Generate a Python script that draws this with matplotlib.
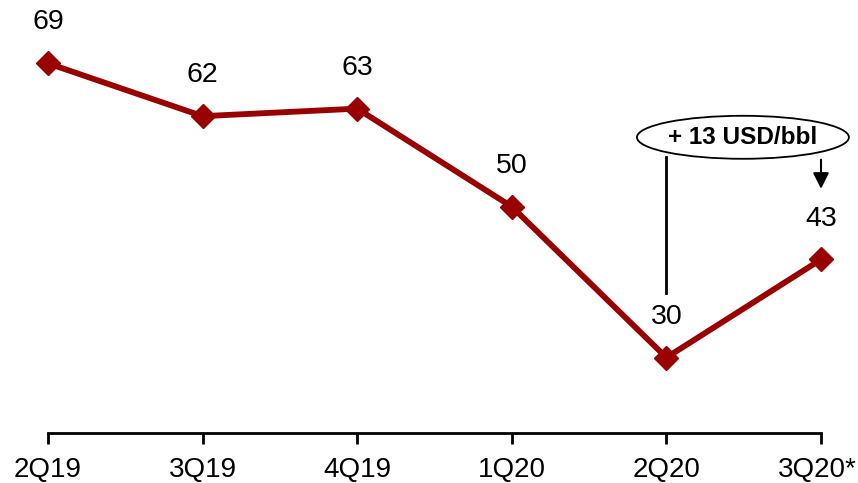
import matplotlib
matplotlib.use("Agg")
import matplotlib.pyplot as plt
import matplotlib.transforms as mtransforms
from matplotlib.patches import Ellipse

categories = ["2Q19", "3Q19", "4Q19", "1Q20", "2Q20", "3Q20*"]
values = [69, 62, 63, 50, 30, 43]
annotation_text = "+ 13 USD/bbl"

plt.rcParams['font.family'] = ['Liberation Sans Narrow', 'Liberation Sans', 'DejaVu Sans']

fig = plt.figure(figsize=(8.58, 4.83), dpi=100)
ax = fig.add_axes([48/858, 50/483, (821-48)/858, 433/483])
x = list(range(len(categories)))
color = "#990000"
ax.plot(x, values, color=color, lw=4.2, marker='D', ms=12.5, clip_on=False, zorder=3)
for xi, v in zip(x, values):
    ax.annotate(str(v), (xi, v), xytext=(0, 29.5), textcoords='offset points',
                ha='center', va='center', fontsize=20.5)

ax.set_xlim(0, 5)
ax.set_ylim(20, 77.4)
for s in ['top', 'right', 'left']:
    ax.spines[s].set_visible(False)
ax.spines['bottom'].set_linewidth(2)
ax.set_yticks([])
ax.set_xticks(x)
ax.set_xticklabels(categories, fontsize=20)
ax.tick_params(axis='x', length=8, width=2, pad=9)
last = ax.get_xticklabels()[-1]
last.set_transform(last.get_transform() + mtransforms.ScaledTranslation(-4/100, 0, fig.dpi_scale_trans))

# annotation: ellipse with text, connector and arrow
ell = Ellipse((4.495, 59.2), 1.371, 5.7, facecolor='white', edgecolor='black', lw=1.3, zorder=4, clip_on=False)
ax.add_patch(ell)
ax.text(4.495, 59.2, annotation_text, ha='center', va='center', fontsize=17.5, fontweight='bold', zorder=5)
ax.plot([4, 4], [56.6, 38.5], color='black', lw=2, zorder=2)
ax.annotate("", xy=(5, 52.0), xytext=(5, 56.6),
            arrowprops=dict(arrowstyle='-|>', color='black', lw=1.5, mutation_scale=24), zorder=2)

fig.savefig("out.png", dpi=100)
